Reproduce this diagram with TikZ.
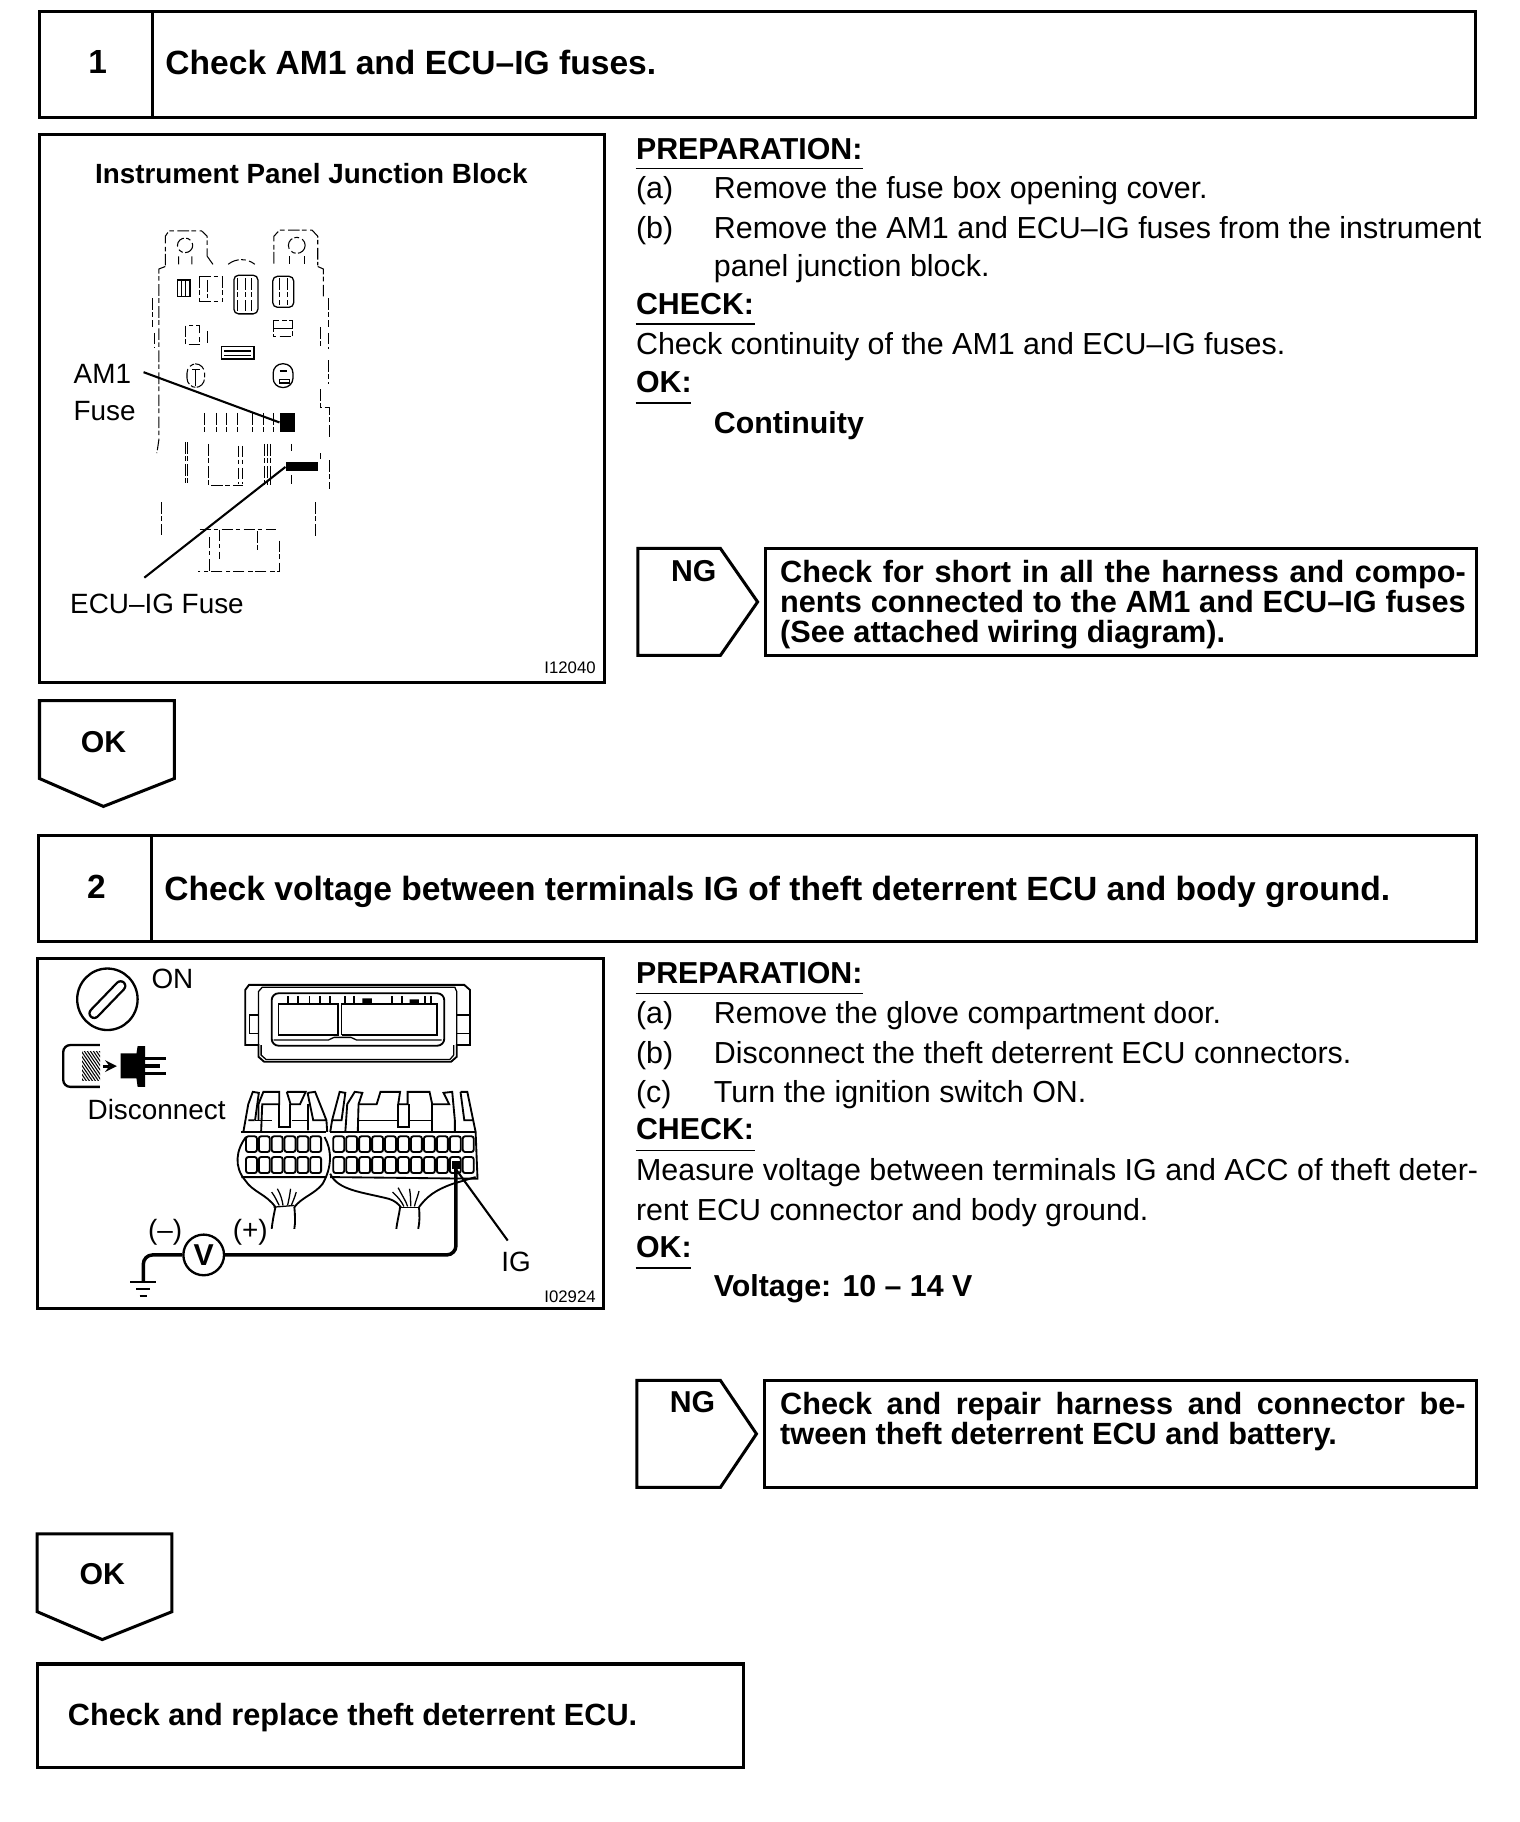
\documentclass[tikz,border=0pt]{standalone}
\usepackage{fontspec}
\setmainfont{Liberation Sans}
\newcommand{\txt}[1]{\fontsize{#1}{#1}\selectfont}
\tikzset{
  x=0.5pt,y=-0.5pt,
  frame/.style={draw=black,line width=1.3pt,line join=miter},
  body/.style={anchor=base west,inner sep=0pt,font=\txt{13.09}},
  bodyb/.style={anchor=base west,inner sep=0pt,font=\txt{13.05}\bfseries},
  titleb/.style={anchor=base west,inner sep=0pt,font=\txt{14.45}\bfseries},
  numb/.style={anchor=base,inner sep=0pt,font=\txt{14.4}\bfseries},
  ngb/.style={anchor=base west,inner sep=0pt,font=\txt{13.2}\bfseries},
  lab/.style={anchor=base west,inner sep=0pt,font=\txt{12}},
  tiny/.style={anchor=base east,inner sep=0pt,font=\txt{7.2}},
  uline/.style={draw=black,line width=0.7pt},
  leader/.style={draw=black,line width=0.9pt},
  brk/.style={draw=black,line width=0.45pt,dash pattern=on 5pt off 1pt on 2pt off 1.5pt},
  fine/.style={draw=black,line width=0.55pt},
  med/.style={draw=black,line width=0.8pt},
  probe/.style={draw=black,line width=1.5pt,line join=round},
  zoomone/.style={shift={(25.8,110.8)},x=0.164pt,y=-0.1568pt},
  zoomtwo/.style={shift={(25.8,817.4)},x=0.1625pt,y=-0.1438pt},
}
\begin{document}
\begin{tikzpicture}
\useasboundingbox (0,0) rectangle (1308,1568);
\fill[white] (0,0) rectangle (1308,1568);

% ---------- Step 1 ----------
\draw[frame] (34,10) rectangle (1270,101);
\draw[frame] (131,10) -- (131,101);
\node[numb] (n1) at (84,63) {1};
\node[titleb] (t1) at (142,64) {Check AM1 and ECU–IG fuses.};

\draw[frame] (34,116) rectangle (520,587);
\node[anchor=base,inner sep=0pt,font=\txt{11.96}\bfseries] (f1t) at (268,158) {Instrument Panel Junction Block};
\node[lab] (am1a) at (63,330) {AM1};
\node[lab] (am1b) at (63,362) {Fuse};
\node[lab] (ecul) at (60,528) {ECU–IG Fuse};
\node[tiny] (id1) at (513,580) {I12040};

\begin{scope}[zoomone]
  % broken outlines of the junction block
  \draw[brk] (355,375) -- (355,295) -- (365,280) -- (450,280) -- (465,295) -- (465,350);
  \draw[brk] (640,370) -- (640,295) -- (655,278) -- (740,278) -- (755,295) -- (755,375);
  \draw[brk] (407,320) circle[radius=20];
  \draw[brk] (700,320) circle[radius=22];
  \draw[brk] (390,350) -- (390,372) (425,350) -- (425,372) (465,350) -- (480,372);
  \draw[brk] (680,350) -- (680,372) (720,350) -- (720,372);
  \draw[brk] (520,372) .. controls (540,355) and (570,355) .. (590,372);
  \draw[brk] (355,378) -- (338,385) -- (338,855) -- (333,890);
  \draw[brk] (322,465) -- (322,545) (327,560) -- (327,600);
  \draw[brk] (755,378) -- (770,385) -- (770,460);
  \draw[brk] (783,465) -- (783,545) (763,545) -- (763,605) (783,560) -- (783,605);
  \draw[brk] (783,635) -- (783,700) (763,715) -- (763,765) -- (785,765) -- (785,845);
  \draw[brk] (785,910) -- (785,988) (763,890) -- (763,905);
  \draw[brk] (345,1025) -- (345,1115) (748,1025) -- (748,1120);
  % upper relays and fuses
  \draw[fine] (387,415) rectangle (420,460);
  \draw[fine] (397,415) -- (397,460) (408,415) -- (408,460);
  \draw[brk] (445,405) -- (445,475) (505,405) -- (505,475) (445,405) -- (505,405) (445,475) -- (505,475);
  \draw[brk] (465,415) -- (465,465);
  \draw[fine,rounded corners=2] (535,402) rectangle (598,508);
  \draw[brk] (545,410) -- (545,500) (565,410) -- (565,500) (580,410) -- (580,500);
  \draw[fine,rounded corners=2] (637,405) rectangle (692,490);
  \draw[brk] (655,410) -- (655,485) (675,410) -- (675,485);
  \draw[brk] (408,540) rectangle (445,592) (465,555) -- (465,590);
  \draw[brk] (640,525) rectangle (690,570);
  \draw[fine] (640,548) -- (690,548);
  \draw[fine] (503,598) rectangle (588,632);
  \draw[fine] (510,610) -- (580,610) (510,622) -- (580,622);
  \draw[brk,rounded corners=4] (412,645) rectangle (458,710);
  \draw[fine] (425,660) -- (445,660) (435,660) -- (435,705);
  \draw[fine,rounded corners=4] (638,645) rectangle (690,710);
  \draw[fine] (655,665) -- (675,665) (655,688) rectangle (680,698);
  % lower fuse rows
  \draw[brk] (458,780) -- (458,832) (490,780) -- (490,832) (515,780) -- (515,832) (545,780) -- (545,832);
  \draw[brk] (585,780) -- (585,832) (612,780) -- (612,832) (640,780) -- (640,832);
  \draw[brk] (408,860) -- (408,978) (413,860) -- (413,978);
  \draw[brk] (468,865) -- (468,978) -- (560,978) (548,870) -- (548,975) (558,870) -- (558,975);
  \draw[brk] (615,865) -- (615,978) (622,865) -- (622,978) (630,865) -- (630,978);
  \draw[brk] (685,865) -- (685,885) (685,950) -- (685,975);
  % lower tab
  \draw[brk] (445,1100) -- (645,1100) (498,1100) -- (498,1180) (597,1105) -- (597,1160);
  \draw[brk] (655,1130) -- (655,1215) -- (440,1215) (470,1120) -- (470,1215);
  % the two fuses and their leaders
  \node[fill=black,inner sep=0pt,minimum width=6.6pt,minimum height=7.8pt] (am1fuse) at (676,806) {};
  \node[fill=black,inner sep=0pt,minimum width=13.6pt,minimum height=3.8pt] (ecufuse) at (713,928) {};
  \coordinate (am1tail) at (298,668);
  \coordinate (ecutail) at (300,1232);
  \draw[leader] (am1tail) -- (am1fuse.west);
  \draw[leader] (ecutail) -- (ecufuse.west);
\end{scope}

\node[bodyb] (p1) at (547,137) {PREPARATION:};
\draw[uline] (547,145) -- (743,145);
\node[body] (p1a) at (547,171) {(a)};
\node[body] (p1at) at (614,171) {Remove the fuse box opening cover.};
\node[body] (p1b) at (547,205) {(b)};
\node[body] (p1bt) at (614,205) {Remove the AM1 and ECU–IG fuses from the instrument};
\node[body] (p1bu) at (614,238) {panel junction block.};
\node[bodyb] (c1) at (547,271) {CHECK:};
\draw[uline] (547,279) -- (650,279);
\node[body] (c1t) at (547,305) {Check continuity of the AM1 and ECU–IG fuses.};
\node[bodyb] (o1) at (547,338) {OK:};
\draw[uline] (547,347) -- (595,347);
\node[bodyb] (o1t) at (614,373) {Continuity};

\draw[frame] (549,472) -- (620,472) -- (652,518) -- (620,564) -- (549,564) -- cycle;
\node[numb,font=\txt{13}\bfseries] (ng1) at (597,500) {NG};
\draw[frame] (659,472) rectangle (1271,564);
\node[ngb] (ng1a) at (671,501) {\makebox[295pt][s]{Check for short in all the harness and compo-}};
\node[ngb] (ng1b) at (671,527) {\makebox[295pt][s]{nents connected to the AM1 and ECU–IG fuses}};
\node[ngb] (ng1c) at (671,553) {(See attached wiring diagram).};

\draw[frame] (34,603) -- (150,603) -- (150,670) -- (89,694) -- (34,670) -- cycle;
\node[numb,font=\txt{13}\bfseries] (ok1) at (89,648) {OK};

% ---------- Step 2 ----------
\draw[frame] (33,719) rectangle (1271,810);
\draw[frame] (130,719) -- (130,810);
\node[numb] (n2) at (83,773) {2};
\node[titleb] (t2) at (141,775) {Check voltage between terminals IG of theft deterrent ECU and body ground.};

\draw[frame] (32,825) rectangle (519,1126);
\node[lab] (on) at (130,851) {ON};
\node[lab] (disc) at (75,963) {Disconnect};
\node[lab] (ig) at (431,1094) {IG};
\node[lab] (neg) at (127,1067) {(–)};
\node[lab] (pos) at (200,1067) {(+)};
\node[tiny] (id2) at (513,1121) {I02924};

\begin{scope}[zoomtwo]
  % ignition key
  \draw[line width=1pt] (205,148) ellipse[x radius=80,y radius=92];
  \draw[line width=5pt,line cap=round] (170,190) -- (240,108);
  \draw[white,line width=3pt,line cap=round] (170,190) -- (240,108);
  % disconnect icon
  \draw[line width=1pt,rounded corners=3] (185,285) -- (88,285) -- (88,410) -- (185,410);
  \begin{scope}
    \clip (138,305) rectangle (186,390);
    \foreach \hx in {0,8,...,150}{
      \draw[line width=0.45pt] ({130+\hx},400) -- ({130+\hx-60},300);
    }
  \end{scope}
  \draw[line width=1.2pt,-{stealth}] (193,348) -- (230,348);
  \fill[black] (240,310) -- (282,310) -- (285,288) -- (305,288) -- (305,410) -- (285,410) -- (282,385) -- (240,385) -- cycle;
  \draw[line width=1.5pt] (305,325) -- (360,325) (305,347) -- (345,347) (305,370) -- (360,370);
  % ECU socket
  \draw[med] (570,120) -- (580,105) -- (1150,105) -- (1165,120) -- (1165,285) -- (1130,285) -- (1130,320) -- (1115,335) -- (620,335) -- (605,320) -- (605,285) -- (570,285) -- cycle;
  \draw[fine] (605,285) -- (605,125) -- (615,112) -- (1125,112) -- (1130,125) -- (1130,285);
  \draw[fine] (612,285) -- (612,315) -- (625,328) -- (1112,328) -- (1122,315) -- (1122,285);
  \draw[med,rounded corners=3] (640,130) rectangle (1097,287);
  \draw[fine] (582,195) rectangle (605,250) (1130,195) rectangle (1163,250);
  \draw[med] (658,255) -- (658,163) -- (683,163) -- (683,138);
  \draw[med] (710,138) -- (710,163) -- (740,163) -- (740,138);
  \draw[med] (768,138) -- (768,163) -- (795,163) -- (795,138);
  \draw[med] (795,163) -- (815,163) -- (815,255) -- (658,255);
  \draw[med] (683,163) -- (710,163) (740,163) -- (768,163);
  \draw[med] (825,255) -- (825,163) -- (835,163) -- (835,138);
  \draw[med] (858,138) -- (858,163) -- (958,163) -- (958,138);
  \draw[med] (835,163) -- (858,163);
  \draw[med] (985,138) -- (985,163) -- (1045,163) -- (1045,138);
  \draw[med] (958,163) -- (985,163);
  \draw[med] (1062,138) -- (1062,163) -- (1078,163) -- (1078,255) -- (825,255);
  \draw[med] (1045,163) -- (1062,163);
  \fill[black] (880,145) rectangle (905,163) (1005,148) rectangle (1030,163);
  \draw[fine] (645,270) -- (790,270) -- (805,262) -- (850,262) -- (865,270) -- (1090,270);
  % wire-side connector tabs
  \draw[med] (565,545) -- (578,462) -- (590,425) -- (606,428) -- (596,510);
  \draw[med] (578,510) -- (595,510) (605,510) -- (605,462) -- (618,425) -- (660,425) -- (660,462) -- (615,462) -- (612,545);
  \draw[med] (680,425) -- (730,425) -- (715,462) -- (690,462) -- (680,425);
  \draw[med] (660,462) -- (660,530) -- (688,530) -- (688,462);
  \draw[med] (735,428) -- (755,425) -- (785,510) -- (787,545) (735,428) -- (750,510) -- (785,510) (736,462) -- (736,540);
  \draw[fine] (596,510) -- (640,510) (695,510) -- (735,510);
  \draw[med] (795,545) -- (800,510) -- (820,425) -- (835,428) -- (825,510) -- (800,510);
  \draw[med] (840,462) -- (860,425) -- (880,428) -- (870,462) -- (868,545) (840,462) -- (835,545);
  \draw[med] (870,462) -- (918,462) -- (928,425) -- (980,425) -- (975,462) -- (1000,462) -- (1000,425) -- (1058,425) -- (1065,462) -- (1110,462) -- (1095,428) -- (1118,425) -- (1125,510) -- (1125,545);
  \draw[med] (1065,462) -- (1065,545) (975,462) -- (975,530) -- (1003,530) -- (1003,462);
  \draw[med] (1140,425) -- (1158,425) -- (1180,545) (1140,425) -- (1150,510) -- (1172,510);
  \draw[fine] (870,510) -- (975,510) (1003,510) -- (1065,510);
  % wire-side connector bodies
  \draw[med] (560,545) -- (785,545) (795,545) -- (1180,545);
  \foreach \cx in {0,...,5}{
    \draw[med,rounded corners=1] ({572+\cx*34},558) rectangle ++(29,47);
    \draw[med,rounded corners=1] ({572+\cx*34},620) rectangle ++(29,48);
  }
  \foreach \cx in {0,...,10}{
    \draw[med,rounded corners=1] ({803+\cx*34.3},558) rectangle ++(29,47);
    \draw[med,rounded corners=1] ({803+\cx*34.3},620) rectangle ++(29,48);
  }
  % wire hoods
  \draw[med] (572,560) .. controls (545,600) and (540,650) .. (570,690) .. controls (590,725) and (625,730) .. (650,770);
  \draw[med] (780,560) .. controls (800,600) and (800,650) .. (775,700) .. controls (755,730) and (720,740) .. (700,770);
  \draw[med] (795,670) .. controls (815,720) and (880,725) .. (950,745) .. controls (965,750) and (975,760) .. (982,770);
  \draw[med] (1180,680) -- (1120,700) .. controls (1070,720) and (1050,740) .. (1030,770);
  \draw[med] (560,680) -- (785,680) (795,680) -- (1185,685) -- (1180,545);
  \draw[fine] (645,770) -- (700,765);
  \draw[fine] (640,725) .. controls (650,740) and (655,755) .. (660,765);
  \draw[fine] (655,715) .. controls (665,735) and (668,750) .. (670,765);
  \draw[fine] (690,715) .. controls (688,735) and (685,750) .. (682,765);
  \draw[fine] (705,725) .. controls (700,745) and (695,755) .. (692,765);
  \draw[fine] (980,770) -- (1032,770);
  \draw[fine] (960,725) .. controls (975,740) and (985,755) .. (990,768);
  \draw[fine] (975,712) .. controls (985,735) and (995,750) .. (1000,768);
  \draw[fine] (1005,715) .. controls (1008,735) and (1008,750) .. (1008,768);
  \draw[fine] (1030,722) .. controls (1025,745) and (1020,755) .. (1018,768);
  \draw[med] (650,770) .. controls (645,795) and (642,815) .. (640,835);
  \draw[med] (700,770) .. controls (702,795) and (703,815) .. (700,835);
  \draw[med] (980,770) .. controls (977,795) and (972,815) .. (970,835);
  \draw[med] (1030,770) .. controls (1032,795) and (1032,815) .. (1028,835);
  % meter, probes, ground
  \node[circle,draw=black,line width=1pt,minimum size=17.5pt,inner sep=0pt,font=\txt{13}\bfseries] (vm) at (460,913) {V};
  \node[fill=black,inner sep=0pt,minimum width=3.4pt,minimum height=3.6pt] (igpin) at (1128,643) {};
  \coordinate (gnd) at (300,995);
  \coordinate (iglead) at (1265,870);
  \draw[probe,rounded corners=4] (vm.west) -- (300,913) -- (gnd);
  \draw[probe,rounded corners=4] (vm.east) -- (1128,913) -- (igpin.center);
  \draw[leader] (igpin.south) -- (iglead);
  \draw[line width=0.9pt] (265,995) -- (335,995) (282,1015) -- (318,1015) (290,1035) -- (310,1035);
\end{scope}

\node[bodyb] (p2) at (547,846) {PREPARATION:};
\draw[uline] (547,855) -- (743,855);
\node[body] (p2a) at (547,881) {(a)};
\node[body] (p2at) at (614,881) {Remove the glove compartment door.};
\node[body] (p2b) at (547,915) {(b)};
\node[body] (p2bt) at (614,915) {Disconnect the theft deterrent ECU connectors.};
\node[body] (p2c) at (547,949) {(c)};
\node[body] (p2ct) at (614,949) {Turn the ignition switch ON.};
\node[bodyb] (c2) at (547,981) {CHECK:};
\draw[uline] (547,990) -- (650,990);
\node[body] (c2t) at (547,1016) {Measure voltage between terminals IG and ACC of theft deter-};
\node[body] (c2u) at (547,1050) {rent ECU connector and body ground.};
\node[bodyb] (o2) at (547,1082) {OK:};
\draw[uline] (547,1091) -- (595,1091);
\node[bodyb] (o2t) at (614,1116) {Voltage: 10 – 14 V};

\draw[frame] (548,1188) -- (620,1188) -- (651,1234) -- (620,1280) -- (548,1280) -- cycle;
\node[numb,font=\txt{13}\bfseries] (ng2) at (596,1216) {NG};
\draw[frame] (658,1188) rectangle (1271,1280);
\node[ngb] (ng2a) at (671,1217) {\makebox[295pt][s]{Check and repair harness and connector be-}};
\node[ngb] (ng2b) at (671,1243) {tween theft deterrent ECU and battery.};

\draw[frame] (32,1320) -- (148,1320) -- (148,1387) -- (88,1411) -- (32,1387) -- cycle;
\node[numb,font=\txt{13}\bfseries] (ok2) at (88,1364) {OK};

\draw[frame] (32,1432) rectangle (640,1521);
\node[anchor=base west,inner sep=0pt,font=\txt{13.2}\bfseries] (end) at (58,1485) {Check and replace theft deterrent ECU.};
\end{tikzpicture}
\end{document}
